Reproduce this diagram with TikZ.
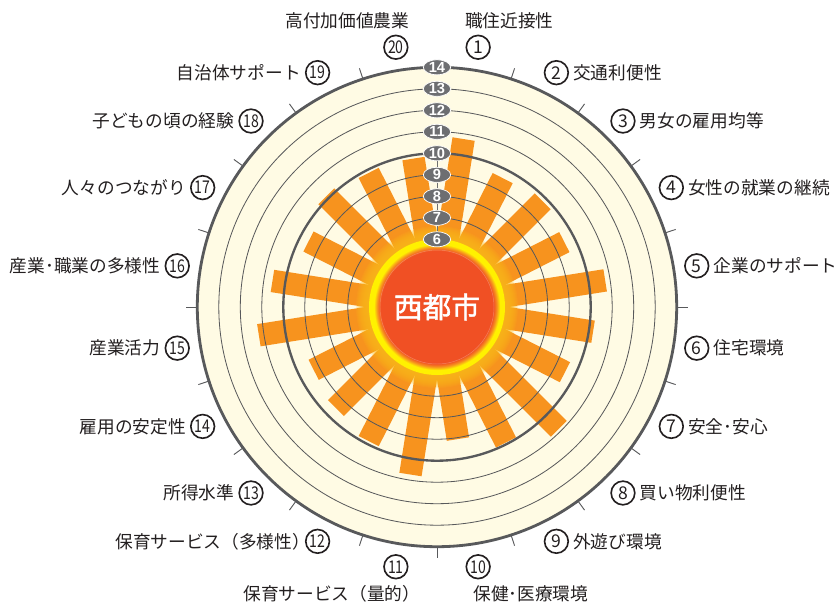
\documentclass[tikz,border=0pt]{standalone}
\usepackage{fontspec}
\setmainfont{Noto Sans CJK JP}
\newfontfamily\numfont{Liberation Sans}
\newfontfamily\cityfont[FakeBold=1.6]{Noto Sans CJK JP}
\usetikzlibrary{shapes.geometric,positioning}
\definecolor{barOrange}{RGB}{247,147,30}
\definecolor{creamBg}{RGB}{255,251,228}
\definecolor{ringGray}{RGB}{88,89,91}
\definecolor{pillGray}{RGB}{109,110,113}
\definecolor{coreRed}{RGB}{240,80,36}
\definecolor{glowYellow}{RGB}{255,241,0}
\definecolor{haloYellow}{RGB}{252,185,25}
\definecolor{labelText}{RGB}{35,31,32}
\pgfdeclareradialshading{coreglow}{\pgfpointorigin}{color(0bp)=(coreRed); color(20.8bp)=(coreRed); color(22bp)=(barOrange); color(23.2bp)=(glowYellow); color(25bp)=(glowYellow); color(50bp)=(glowYellow)}
\tikzset{
  bar/.style={fill=barOrange},
  ring/.style={draw=ringGray,line width=0.7pt},
  tick/.style={draw=ringGray,line width=0.8pt},
  pill/.style={ellipse,fill=pillGray,draw=white,line width=0.6pt,minimum width=0.82cm,minimum height=0.45cm,inner sep=0pt,text=white,font=\numfont\bfseries\fontsize{12.5}{13}\selectfont},
  numcirc/.style={circle,draw=labelText,line width=1.4pt,minimum size=0.71cm,inner sep=0pt,text=labelText,font=\fontsize{15}{15}\selectfont},
  lbl/.style={inner sep=0pt,text=labelText,font=\fontsize{15.1}{16}\selectfont},
}
\begin{document}
\begin{tikzpicture}[x=0.03cm,y=0.03cm]
    \def\rmin{67.7} \def\unit{21.5} \def\rout{239.7}
    \useasboundingbox (-437,-295) rectangle (400,307);

    \fill[creamBg] (0,0) circle[radius=\rout];
    % one bar per item, item 1 just right of the top
    \foreach \v [count=\k, evaluate=\v as \r using \rmin+(\v-6)*\unit] in {10.76,9.58,9.80,9.50,10.77,10.20,9.53,10.86,9.92,9.07,10.74,9.85,9.50,9.29,11.24,10.60,9.56,10.13,9.85,9.84}
      \fill[bar,rotate={81-18*(\k-1)}] (0,-11.25) rectangle (\r,11.25);
    \foreach \v [evaluate=\v as \r using \rmin+(\v-6)*\unit] in {7,8,9,11,12,13}
      \draw[ring] (0,0) circle[radius=\r];
    \draw[ring,line width=2pt] (0,0) circle[radius=153.7];
    \draw[ringGray,line width=2.4pt] (0,0) circle[radius=\rout];
    \foreach \a in {0,18,36,54,72,108,126,144,162,180,198,216,234,252,270,288,306,324,342}
      \draw[tick] (\a:\rout) -- (\a:251);

    % glow round the city disk
    \foreach \i [evaluate=\i as \r using 81-\i] in {0,...,12}
      \fill[haloYellow,opacity=0.15] (0,0) circle[radius=\r];
    \shade[shading=coreglow] (0,0) circle[radius=68];
    \draw[coreRed!55!white,line width=0.4pt,opacity=0.6] (0,0) circle[radius=57];
    \node[text=white,font=\cityfont\fontsize{24.5}{25}\selectfont] (city) at (0,0) {西都市};

    % scale pills
    \foreach \v [evaluate=\v as \r using \rmin+(\v-6)*\unit] in {6,...,14}
      \node[pill] (p\v) at (0,\r) {\v};
    \foreach \v [evaluate=\v as \w using int(\v+1)] in {6,...,9}
      \draw[pillGray,line width=0.8pt] (p\v) -- (p\w);

    % item numbers and names
    \foreach \k in {1,...,20}
      \node[numcirc] (n\k) at ({81-18*(\k-1)}:263) {\ifnum\k>9 \scalebox{0.8}[1]{\k}\else\k\fi};
    \foreach \k/\t in {2/交通利便性,3/男女の雇用均等,4/女性の就業の継続,5/企業のサポート,6/住宅環境,7/安全･安心,8/買い物利便性,9/外遊び環境}
      \node[lbl,right=0.12cm of n\k] (t\k) {\t};
    \foreach \k/\t in {13/所得水準,14/雇用の安定性,15/産業活力,16/産業･職業の多様性,17/人々のつながり,18/子どもの頃の経験,19/自治体サポート}
      \node[lbl,left=0.12cm of n\k] (t\k) {\t};
    \node[lbl,left=-0.16cm of n12] (t12) {保育サービス（多様性）};
    \node[lbl,anchor=south west] (t1) at ([xshift=-0.40cm,yshift=0.15cm]n1.north) {職住近接性};
    \node[lbl,anchor=south east] (t20) at ([xshift=0.41cm,yshift=0.15cm]n20.north) {高付加価値農業};
    \node[lbl,anchor=north west] (t10) at ([xshift=-0.15cm,yshift=-0.18cm]n10.south) {保健･医療環境};
    \node[lbl,anchor=north east] (t11) at ([xshift=0.74cm,yshift=-0.18cm]n11.south) {保育サービス（量的）};
\end{tikzpicture}
\end{document}
